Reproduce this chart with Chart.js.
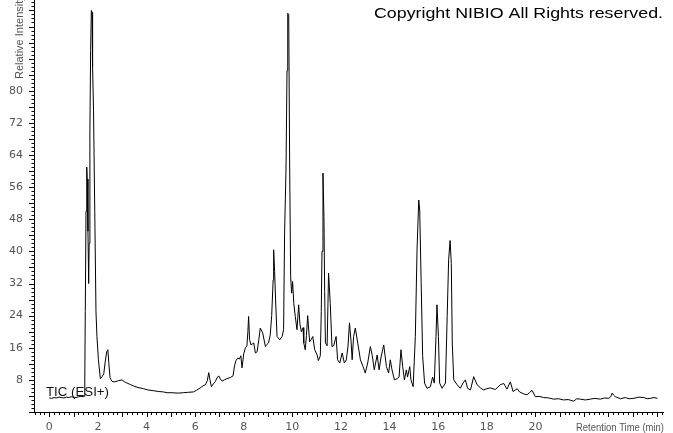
<!DOCTYPE html>
<html lang="en">
<head>
    <meta charset="UTF-8">
    <title>TIC (ESI+)</title>
    <script src="https://cdn.jsdelivr.net/npm/chart.js"></script>
    <style>
        html, body { margin: 0; padding: 0; background: #fff; }
        #wrap { width: 673px; height: 433px; }
    </style>
</head>
<body>
    <div id="wrap"><canvas id="tic" width="673" height="433"></canvas></div>

    <script>
        // Retention time (min) and relative intensity
        const retentionTime = [
            0.00, 0.10, 0.20, 0.30, 0.40, 0.50, 0.60, 0.70, 0.80, 0.90,
            1.00, 1.10, 1.20, 1.30, 1.40, 1.44, 1.46, 1.48, 1.51, 1.54,
            1.56, 1.59, 1.62, 1.64, 1.67, 1.70, 1.73, 1.76, 1.78, 1.82,
            1.87, 1.92, 1.96, 2.02, 2.10, 2.17, 2.24, 2.30, 2.36, 2.41,
            2.45, 2.50, 2.58, 2.70, 2.85, 2.99, 3.10, 3.20, 3.35, 3.46,
            3.65, 3.87, 4.05, 4.28, 4.50, 4.70, 4.84, 5.05, 5.30, 5.51,
            5.70, 5.93, 6.05, 6.21, 6.32, 6.42, 6.50, 6.56, 6.61, 6.67,
            6.75, 6.83, 6.90, 6.97, 7.04, 7.11, 7.20, 7.31, 7.45, 7.56,
            7.62, 7.68, 7.75, 7.82, 7.88, 7.93, 8.00, 8.07, 8.13, 8.17,
            8.20, 8.24, 8.30, 8.41, 8.48, 8.55, 8.62, 8.68, 8.78, 8.89,
            8.95, 9.02, 9.09, 9.15, 9.21, 9.23, 9.27, 9.31, 9.37, 9.48,
            9.58, 9.64, 9.68, 9.74, 9.78, 9.81, 9.85, 9.89, 9.93, 9.97,
            10.01, 10.06, 10.12, 10.19, 10.26, 10.31, 10.37, 10.44, 10.47, 10.53,
            10.58, 10.63, 10.71, 10.77, 10.84, 10.92, 11.02, 11.07, 11.15, 11.19,
            11.22, 11.26, 11.30, 11.33, 11.36, 11.43, 11.49, 11.56, 11.63, 11.70,
            11.80, 11.86, 11.95, 12.05, 12.14, 12.22, 12.29, 12.35, 12.42, 12.46,
            12.52, 12.59, 12.69, 12.80, 12.91, 13.00, 13.10, 13.21, 13.29, 13.37,
            13.49, 13.57, 13.65, 13.76, 13.87, 13.96, 14.03, 14.10, 14.20, 14.31,
            14.39, 14.47, 14.54, 14.61, 14.69, 14.74, 14.83, 14.88, 14.97, 15.06,
            15.13, 15.20, 15.24, 15.30, 15.36, 15.44, 15.54, 15.68, 15.77, 15.84,
            15.91, 15.95, 16.01, 16.06, 16.16, 16.30, 16.37, 16.43, 16.49, 16.54,
            16.58, 16.64, 16.78, 16.91, 17.02, 17.12, 17.21, 17.33, 17.46, 17.60,
            17.74, 17.86, 18.00, 18.15, 18.35, 18.56, 18.70, 18.83, 18.97, 19.08,
            19.25, 19.35, 19.52, 19.66, 19.75, 19.86, 20.00, 20.15, 20.34, 20.55,
            20.75, 20.95, 21.16, 21.35, 21.58, 21.70, 21.85, 22.05, 22.26, 22.45,
            22.67, 22.85, 23.02, 23.10, 23.16, 23.22, 23.29, 23.50, 23.70, 23.85,
            24.05, 24.25, 24.46, 24.60, 24.73, 24.88, 25.02
        ];
        const intensity = [
            3.5, 3.4, 3.6, 3.5, 3.7, 3.6, 3.5, 3.7, 3.6, 3.8,
            3.7, 3.6, 3.8, 3.9, 3.8, 3.9, 8.0, 25.0, 50.0, 61.0,
            58.0, 45.0, 32.0, 42.0, 70.0, 90.0, 100.0, 99.5, 86.0, 75.0,
            50.0, 25.0, 18.8, 13.0, 8.3, 8.8, 9.5, 12.5, 15.0, 15.5,
            12.0, 8.5, 7.6, 7.5, 7.8, 8.0, 7.5, 7.2, 6.8, 6.5,
            6.1, 5.8, 5.5, 5.3, 5.1, 5.0, 4.8, 4.8, 4.7, 4.8,
            4.9, 5.0, 5.4, 6.0, 6.5, 6.8, 7.8, 9.8, 8.0, 6.3,
            7.0, 7.6, 8.5, 9.0, 8.2, 7.7, 8.0, 8.3, 8.6, 9.0,
            11.5, 12.8, 13.4, 13.2, 14.0, 11.0, 14.5, 16.0, 16.5, 20.0,
            23.8, 18.0, 16.7, 17.2, 14.7, 15.0, 18.0, 20.9, 19.7, 16.3,
            16.8, 17.2, 19.2, 24.0, 32.9, 40.4, 35.0, 27.9, 18.8, 18.0,
            18.8, 20.5, 44.5, 61.0, 85.0, 99.3, 99.0, 61.0, 33.7, 29.6,
            32.5, 27.0, 23.8, 20.5, 26.7, 22.0, 20.0, 21.0, 17.2, 15.5,
            19.0, 24.0, 17.5, 18.0, 18.8, 15.5, 14.2, 12.8, 14.0, 25.0,
            40.0, 59.5, 48.7, 30.0, 17.2, 16.5, 34.6, 27.0, 16.3, 16.5,
            18.8, 13.0, 12.2, 14.7, 12.2, 13.0, 16.4, 22.2, 17.2, 13.0,
            18.8, 20.9, 17.2, 13.0, 11.3, 9.7, 12.2, 16.3, 14.0, 10.5,
            14.2, 10.5, 13.7, 16.7, 11.3, 9.7, 13.0, 10.5, 8.0, 8.3,
            8.7, 15.5, 11.3, 8.0, 10.5, 8.7, 11.3, 8.0, 6.3, 18.8,
            40.4, 52.8, 50.3, 32.2, 14.0, 7.2, 5.9, 6.3, 8.7, 7.2,
            18.8, 26.7, 18.8, 7.2, 5.9, 7.2, 23.8, 37.9, 42.7, 37.0,
            17.2, 8.0, 6.8, 5.9, 7.2, 8.0, 5.9, 5.5, 8.8, 6.8,
            6.0, 5.5, 5.8, 6.0, 5.6, 6.8, 7.1, 5.7, 7.5, 5.1,
            5.8, 5.0, 4.5, 4.3, 4.8, 5.4, 3.8, 3.9, 3.6, 3.5,
            3.2, 3.3, 3.0, 3.1, 2.7, 3.3, 3.2, 3.0, 3.2, 3.4,
            3.2, 3.5, 3.4, 3.8, 4.7, 4.2, 3.8, 3.3, 3.6, 3.3,
            3.4, 3.7, 3.6, 3.3, 3.4, 3.6, 3.4
        ];
        const xTickLabels = [0, 2, 4, 6, 8, 10, 12, 14, 16, 18, 20];
        const yTickLabels = [8, 16, 24, 32, 40, 48, 56, 64, 72, 80];

        const copyrightText = 'Copyright NIBIO All Rights reserved.';
        const traceLabel = 'TIC (ESI+)';
        const xAxisTitle = 'Retention Time (min)';
        const yAxisTitle = 'Relative Intensity';

        // draw a string squeezed/stretched to a given width
        function fitText(ctx, text, x, y, width, font, color) {
            ctx.save();
            ctx.font = font;
            ctx.fillStyle = color;
            ctx.textAlign = 'left';
            ctx.textBaseline = 'alphabetic';
            const w = ctx.measureText(text).width;
            ctx.translate(x, y);
            ctx.scale(width / w, 1);
            ctx.fillText(text, 0, 0);
            ctx.restore();
        }

        const decorations = {
            id: 'decorations',
            afterDraw(chart) {
                const ctx = chart.ctx;
                const xs = chart.scales.x, ys = chart.scales.y;
                const area = chart.chartArea;

                // minor / major tick marks
                ctx.save();
                ctx.strokeStyle = '#000';
                ctx.lineWidth = 1;
                ctx.beginPath();
                for (let k = 0; k <= Math.floor(ys.max); k++) {
                    const py = Math.round(ys.getPixelForValue(k)) + 0.5;
                    const len = k % 4 === 0 ? 5 : 2.5;
                    ctx.moveTo(area.left - len, py);
                    ctx.lineTo(area.left, py);
                }
                for (let k = Math.ceil(xs.min * 5); k <= Math.floor(xs.max * 5); k++) {
                    const px = Math.round(xs.getPixelForValue(k / 5)) + 0.5;
                    const len = k % 5 === 0 ? 5 : 3;
                    ctx.moveTo(px, area.bottom);
                    ctx.lineTo(px, area.bottom + len);
                }
                ctx.stroke();
                ctx.restore();

                // y axis title, rotated, sitting at the top of the axis
                ctx.save();
                ctx.translate(22.5, 79);
                ctx.rotate(-Math.PI / 2);
                ctx.font = '11px "Liberation Sans", Arial, sans-serif';
                ctx.fillStyle = '#555';
                ctx.textAlign = 'left';
                ctx.textBaseline = 'alphabetic';
                ctx.fillText(yAxisTitle, 0, 0);
                ctx.restore();

                fitText(ctx, copyrightText, 374, 17.5, 289, '15px "Liberation Sans", Arial, sans-serif', '#000');
                fitText(ctx, traceLabel, 46, 395.5, 63, '12.5px "Liberation Sans", Arial, sans-serif', '#111');
                fitText(ctx, xAxisTitle, 576, 431, 88, '10.5px "Liberation Sans", Arial, sans-serif', '#555');
            }
        };

        new Chart(document.getElementById('tic'), {
            type: 'line',
            data: {
                datasets: [{
                    data: retentionTime.map((t, i) => ({ x: t, y: intensity[i] })),
                    borderColor: '#000',
                    borderWidth: 1,
                    pointRadius: 0,
                    tension: 0,
                    fill: false
                }]
            },
            options: {
                responsive: false,
                devicePixelRatio: 1,
                animation: false,
                layout: { padding: { left: 0, right: 10, top: 0, bottom: 0 } },
                plugins: { legend: { display: false }, tooltip: { enabled: false }, title: { display: false } },
                scales: {
                    x: {
                        type: 'linear',
                        min: -0.63,
                        max: 25.25,
                        afterBuildTicks: s => { s.ticks = xTickLabels.map(v => ({ value: v })); },
                        afterFit: s => { s.height = 21; s.paddingLeft = 0; s.paddingRight = 0; },
                        grid: { display: false, drawTicks: false },
                        border: { display: true, color: '#000', width: 1 },
                        ticks: {
                            padding: 9, autoSkip: false, maxRotation: 0, color: '#555',
                            font: { family: '"DejaVu Sans"', size: 11 }
                        }
                    },
                    y: {
                        min: 0,
                        max: 102.6,
                        afterBuildTicks: s => { s.ticks = yTickLabels.map(v => ({ value: v })); },
                        afterFit: s => { s.width = 34; s.paddingTop = 0; s.paddingBottom = 0; },
                        grid: { display: false, drawTicks: false },
                        border: { display: true, color: '#000', width: 1 },
                        ticks: {
                            padding: 11, autoSkip: false, color: '#555',
                            font: { family: '"DejaVu Sans"', size: 11 }
                        }
                    }
                }
            },
            plugins: [decorations]
        });
    </script>
</body>
</html>
